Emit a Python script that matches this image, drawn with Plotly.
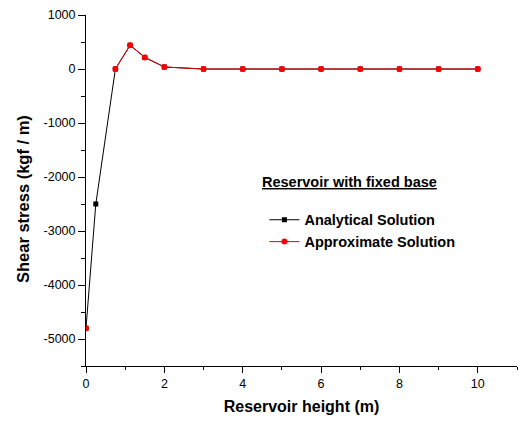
import plotly.graph_objects as go

# Reservoir height (m) and shear stress (kgf / m)
height = [0, 0.25, 0.75, 1.125, 1.5, 2, 3, 4, 5, 6, 7, 8, 9, 10]
analytical = [-4800, -2500, 0, 440, 215, 37, 0, 0, 0, 0, 0, 0, 0, 0]
approximate = [-4800, None, 0, 440, 215, 37, 0, 0, 0, 0, 0, 0, 0, 0]

x_ticks = [0, 2, 4, 6, 8, 10]
y_ticks = [1000, 0, -1000, -2000, -3000, -4000, -5000]
y_tick_text = ["1000", "0", "-1000", "-2000", "-3000", "-4000", "-5000"]

FONT = "Liberation Sans, Arial, sans-serif"

fig = go.Figure()
fig.add_trace(go.Scatter(
    x=height, y=analytical, mode="lines+markers", name="Analytical Solution",
    line=dict(color="black", width=1),
    marker=dict(symbol="square", size=5, color="black"),
))
fig.add_trace(go.Scatter(
    x=height, y=approximate, mode="lines+markers", name="Approximate Solution",
    connectgaps=False,
    line=dict(color="#e00000", width=1),
    marker=dict(symbol="circle", size=6, color="#ff0000"),
))

axis_common = dict(
    showgrid=False, zeroline=False, showline=True, linecolor="black", linewidth=1,
    ticks="outside", tickwidth=1, tickcolor="black",
    tickfont=dict(family=FONT, size=12.5, color="black"),
)

fig.update_xaxes(
    range=[0, 11], tickvals=x_ticks, ticklen=6,
    minor=dict(dtick=1, ticks="outside", ticklen=3, tickcolor="black"),
    title=dict(text="<b>Reservoir height (m)</b>", font=dict(family=FONT, size=16, color="black"), standoff=10),
    **axis_common,
)
fig.update_yaxes(
    range=[-5500, 1000], tickvals=y_ticks, ticktext=y_tick_text, ticklen=7,
    minor=dict(dtick=500, ticks="outside", ticklen=4, tickcolor="black"),
    **axis_common,
)

# y-axis title placed slightly below the plot-area centre
fig.add_annotation(
    text="<b>Shear stress (kgf / m)</b>", xref="paper", yref="paper",
    x=-0.146, y=0.476, xanchor="center", yanchor="middle", textangle=-90,
    showarrow=False, font=dict(family=FONT, size=16.5, color="black"),
)

fig.add_annotation(
    text="<b><u>Reservoir with fixed base</u></b>", xref="paper", yref="paper",
    x=0.404, y=0.524, xanchor="left", yanchor="middle", showarrow=False,
    font=dict(family=FONT, size=14.5, color="black"),
)

fig.update_layout(
    width=522, height=421,
    margin=dict(l=86, r=5, t=15, b=55),
    paper_bgcolor="white", plot_bgcolor="white",
    font=dict(family=FONT, color="black"),
    showlegend=True,
    legend=dict(
        x=0.414, y=0.462, xanchor="left", yanchor="top",
        bgcolor="rgba(0,0,0,0)", font=dict(family=FONT, size=14.5, color="black", weight="bold"),
        tracegroupgap=0,
    ),
)

fig.write_html("out.html")
